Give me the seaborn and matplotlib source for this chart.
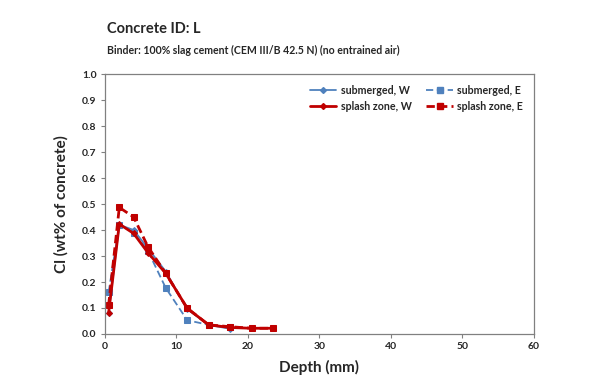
import matplotlib
matplotlib.use("Agg")
import matplotlib.pyplot as plt
from matplotlib.lines import Line2D
import seaborn as sns
import pandas as pd

depth_sub = [0.5, 2.0, 4.0, 6.0, 8.5, 11.5, 14.5, 17.5]
sub_w = [0.08, 0.42, 0.40, 0.33, 0.24, 0.095, 0.035, 0.020]
sub_e = [0.16, 0.42, 0.39, 0.32, 0.177, 0.053, 0.035, 0.025]
depth_spl = [0.5, 2.0, 4.0, 6.0, 8.5, 11.5, 14.5, 17.5, 20.5, 23.5]
spl_w = [0.08, 0.423, 0.387, 0.313, 0.233, 0.099, 0.035, 0.025, 0.022, 0.022]
spl_e = [0.11, 0.487, 0.45, 0.336, 0.233, 0.099, 0.035, 0.028, 0.022, 0.022]

labels = ["submerged, W", "submerged, E", "splash zone, W", "splash zone, E"]
xticks = [0, 10, 20, 30, 40, 50, 60]
yticks = [0.0, 0.1, 0.2, 0.3, 0.4, 0.5, 0.6, 0.7, 0.8, 0.9, 1.0]

sns.set_style("white")
plt.rcParams['font.family'] = ['Lato', 'DejaVu Sans']

fig = plt.figure(figsize=(6, 3.92), dpi=100)
ax = fig.add_axes([0.175, 0.148, 0.715, 0.663])

blue = "#4F81BD"
red = "#C00000"
styles = [
    (depth_sub, sub_w, blue, None, "D", 1.3, 3),
    (depth_sub, sub_e, blue, (4, 2), "s", 1.3, 4.5),
    (depth_spl, spl_w, red, None, "D", 2.0, 3),
    (depth_spl, spl_e, red, (3, 1.5), "s", 2.0, 5),
]
handles = []
for (x, y, c, dash, m, lw, ms), lab in zip(styles, labels):
    df = pd.DataFrame({"x": x, "y": y})
    sns.lineplot(data=df, x="x", y="y", ax=ax, color=c, marker=m,
                 markersize=ms, linewidth=lw, markeredgecolor=c, legend=False,
                 sort=False)
    line = ax.lines[-1]
    if dash is not None:
        line.set_dashes(dash)
    h = Line2D([], [], color=c, marker=m, markersize=ms, linewidth=lw,
               markeredgecolor=c)
    if dash is not None:
        h.set_dashes(dash)
    handles.append(h)

ax.set_xlim(0, 60)
ax.set_ylim(0, 1.0)
ax.set_xticks(xticks)
ax.set_yticks(yticks)
ax.set_xticklabels([str(t) for t in xticks], fontsize=7.5, fontweight="bold")
ax.set_yticklabels([f"{t:.1f}" for t in yticks], fontsize=7.5, fontweight="bold")
ax.tick_params(direction="out", length=3, width=0.8, color="#808080", pad=3)
ax.tick_params(axis="x", bottom=True)
ax.tick_params(axis="y", left=True)
for s in ax.spines.values():
    s.set_color("#808080")
    s.set_linewidth(0.9)
ax.set_xlabel("Depth (mm)", fontsize=11, fontweight="bold", labelpad=6)
ax.set_ylabel("Cl (wt% of concrete)", fontsize=11, fontweight="bold", labelpad=10)

order = [0, 2, 1, 3]
ax.legend([handles[i] for i in order], [labels[i] for i in order], ncol=2,
          loc="upper right", frameon=False, prop={"weight": "bold", "size": 7.7},
          handlelength=2.5, columnspacing=1.4, borderaxespad=0.6, handletextpad=0.4)

fig.text(0.178, 0.915, "Concrete ID: L", fontsize=10.5, fontweight="bold")
fig.text(0.178, 0.862, "Binder: 100% slag cement (CEM III/B 42.5 N) (no entrained air)",
         fontsize=7.6, fontweight="bold")

fig.savefig("out.png", dpi=100)
